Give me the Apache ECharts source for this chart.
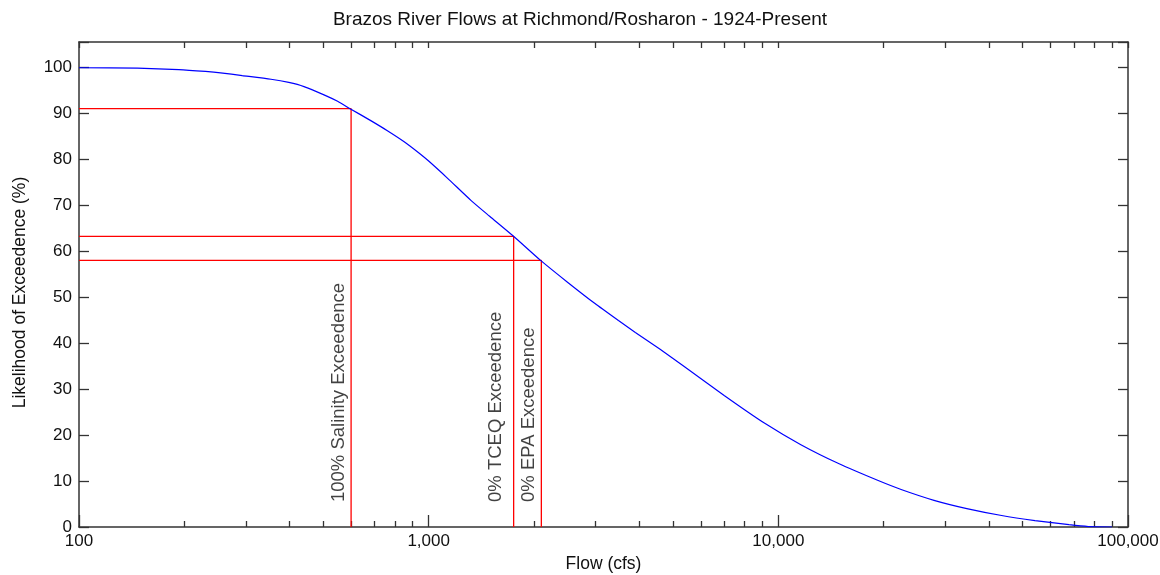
<!DOCTYPE html>
<html>
<head>
<meta charset="utf-8">
<script src="https://cdn.jsdelivr.net/npm/echarts@6/dist/echarts.min.js"></script>
<style>
  html, body { margin: 0; padding: 0; background: #fff; }
  #chart { width: 1160px; height: 575px; }
</style>
</head>
<body>
<div id="chart"></div>
<script>
// flow duration curve
const flowCfs = [100, 147, 193, 230, 254, 293, 354, 398, 440, 502, 549, 596, 683, 762, 851, 940, 1000, 1131, 1323, 1494, 1752, 2090, 2500, 2990, 3490, 3900, 4580, 5380, 7000, 9120, 11600, 14870, 19300, 22550, 27870, 34600, 43500, 54200, 67800, 77000, 90000]
const exceedPct = [99.9, 99.8, 99.5, 99.1, 98.8, 98.2, 97.4, 96.7, 95.8, 94.0, 92.6, 91.0, 88.4, 86.2, 83.8, 81.3, 79.6, 75.9, 71.0, 67.6, 63.2, 58.0, 53.2, 48.6, 44.9, 42.3, 38.7, 34.9, 28.6, 22.6, 17.9, 13.8, 10.1, 8.1, 5.8, 4.0, 2.5, 1.4, 0.5, 0.1, 0]

// threshold lines
const markNames = ['100% Salinity Exceedence', '0% TCEQ Exceedence', '0% EPA Exceedence']
const markFlows = [600, 1750, 2100]
const markPcts = [91, 63.2, 58]

const majorFlows = [100, 1000, 10000, 100000]
const minorFlows = [200, 300, 400, 500, 600, 700, 800, 900, 2000, 3000, 4000, 5000, 6000, 7000, 8000, 9000, 20000, 30000, 40000, 50000, 60000, 70000, 80000, 90000]

const font = '"Liberation Sans", Arial, sans-serif'
const axisColor = '#333'
const textColor = '#111'

const chart = echarts.init(document.getElementById('chart'))

const redSeries = markFlows.map((f, i) => ({
  type: 'line',
  data: [[100, markPcts[i]], [f, markPcts[i]], [f, 0]],
  symbol: 'none',
  silent: true,
  lineStyle: { color: '#ff0000', width: 1.3 },
  z: 3
}))

const labelGaps = [3, 8, 3]

const option = {
  animation: false,
  title: {
    text: 'Brazos River Flows at Richmond/Rosharon - 1924-Present',
    left: 'center',
    top: 5,
    textStyle: { fontFamily: font, fontSize: 19, fontWeight: 'normal', color: textColor }
  },
  grid: { left: 79, right: 32, top: 42, bottom: 48, outerBoundsMode: 'none', containLabel: false },
  xAxis: [
    {
      type: 'log',
      logBase: 10,
      min: 100,
      max: 100000,
      position: 'bottom',
      name: 'Flow (cfs)',
      nameLocation: 'middle',
      nameGap: 26,
      nameTextStyle: { fontFamily: font, fontSize: 17.5, color: textColor },
      axisLine: { show: true, lineStyle: { color: axisColor, width: 1.5 } },
      axisTick: { show: true, inside: true, length: 12, lineStyle: { color: axisColor, width: 1.3 } },
      axisLabel: {
        fontFamily: font, fontSize: 17, color: textColor, margin: 6,
        formatter: v => Number(v).toLocaleString('en-US')
      },
      splitLine: { show: false },
      minorTick: { show: false }
    },
    {
      type: 'log',
      logBase: 10,
      min: 100,
      max: 100000,
      position: 'bottom',
      axisLine: { show: false },
      axisTick: { show: true, inside: true, length: 6, customValues: minorFlows, lineStyle: { color: axisColor, width: 1.3 } },
      axisLabel: { show: false },
      splitLine: { show: false }
    },
    {
      type: 'log',
      logBase: 10,
      min: 100,
      max: 100000,
      position: 'top',
      axisLine: { show: true, lineStyle: { color: axisColor, width: 1.5 } },
      axisTick: { show: true, inside: true, length: 6, customValues: minorFlows.concat(majorFlows), lineStyle: { color: axisColor, width: 1.3 } },
      axisLabel: { show: false },
      splitLine: { show: false }
    }
  ],
  yAxis: [
    {
      type: 'value',
      min: 0,
      max: 105.5,
      interval: 10,
      position: 'left',
      name: 'Likelihood of Exceedence (%)',
      nameLocation: 'middle',
      nameGap: 50,
      nameTextStyle: { fontFamily: font, fontSize: 17.5, color: textColor, padding: [0, 16, 0, 0] },
      axisLine: { show: true, lineStyle: { color: axisColor, width: 1.5 } },
      axisTick: { show: true, inside: true, length: 10, lineStyle: { color: axisColor, width: 1.3 } },
      axisLabel: {
        fontFamily: font, fontSize: 17, color: textColor, margin: 7,
        formatter: v => (v <= 100 ? String(v) : '')
      },
      splitLine: { show: false }
    },
    {
      type: 'value',
      min: 0,
      max: 105.5,
      interval: 10,
      position: 'right',
      axisLine: { show: true, lineStyle: { color: axisColor, width: 1.5 } },
      axisTick: { show: true, inside: true, length: 10, lineStyle: { color: axisColor, width: 1.3 } },
      axisLabel: { show: false },
      splitLine: { show: false }
    }
  ],
  series: [
    ...redSeries,
    {
      type: 'line',
      data: flowCfs.map((f, i) => [f, exceedPct[i]]),
      symbol: 'none',
      smooth: 0.2,
      silent: true,
      lineStyle: { color: '#0000ff', width: 1.2 },
      z: 4
    },
    {
      type: 'scatter',
      symbolSize: 0,
      silent: true,
      data: markFlows.map((f, i) => ({
        value: [f, 0],
        label: {
          show: true,
          formatter: markNames[i],
          position: [-labelGaps[i], -25],
          rotate: 90,
          align: 'left',
          verticalAlign: 'bottom',
          fontFamily: font,
          fontSize: 18.5,
          color: textColor
        }
      })),
      z: 5
    }
  ]
}

chart.setOption(option)
</script>
</body>
</html>
